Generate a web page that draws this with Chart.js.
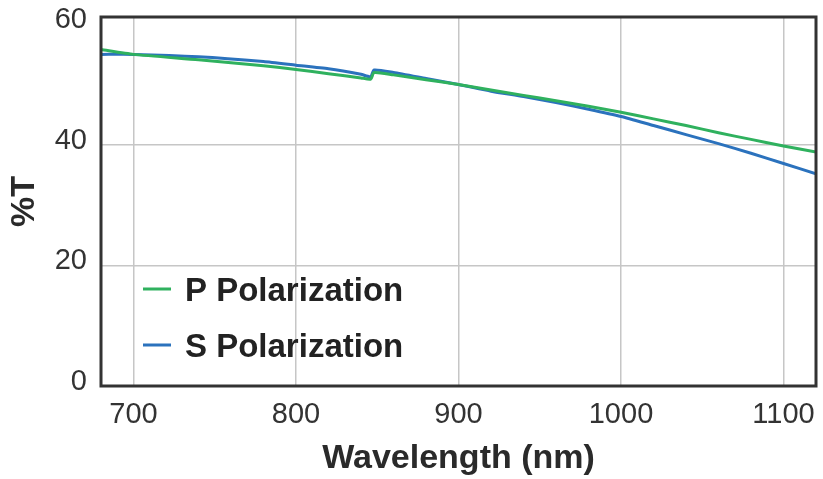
<!DOCTYPE html>
<html>
<head>
<meta charset="utf-8">
<script src="https://cdn.jsdelivr.net/npm/chart.js@4.4.1/dist/chart.umd.min.js"></script>
<style>
  html, body { margin: 0; padding: 0; background: #fff; }
  #wrap { width: 823px; height: 479px; }
</style>
</head>
<body>
<div id="wrap"><canvas id="chart" width="823" height="479"></canvas></div>
<script>
// wavelength (nm) sample points, the step near 847 nm is kept as two close points
const pWavelength = [680, 700, 740, 780, 800, 820, 840, 846, 848, 860, 880, 900, 920, 940, 960, 980, 1000, 1020, 1040, 1060, 1080, 1100, 1120];
const pValues     = [55.8, 55.0, 54.1, 53.1, 52.5, 51.8, 51.1, 50.9, 52.0, 51.6, 50.8, 50.0, 49.1, 48.2, 47.3, 46.4, 45.4, 44.3, 43.2, 42.0, 40.9, 39.8, 38.8];

const sWavelength = [680, 700, 740, 780, 800, 820, 840, 846, 848, 860, 880, 900, 920, 940, 960, 980, 1000, 1020, 1040, 1060, 1080, 1100, 1120];
const sValues     = [55.0, 55.0, 54.6, 53.8, 53.2, 52.6, 51.7, 51.3, 52.4, 52.0, 51.0, 50.0, 48.9, 48.0, 47.0, 45.9, 44.7, 43.2, 41.7, 40.2, 38.6, 36.9, 35.2];

const seriesNames = ["P Polarization", "S Polarization"];
const xTicks = [700, 800, 900, 1000, 1100];
const yTicks = [0, 20, 40, 60];

const GREEN = "#2fb15e";
const BLUE = "#2b72bd";
const FONT = "'Liberation Sans', Arial, sans-serif";

function toPoints(xs, ys) {
  return xs.map((x, i) => ({ x: x, y: ys[i] }));
}

// frame around the plot + legend inside it
const framePlugin = {
  id: "frame",
  afterDraw(chart) {
    const { ctx, chartArea: a } = chart;
    ctx.save();
    ctx.strokeStyle = "#333";
    ctx.lineWidth = 3;
    ctx.strokeRect(a.left, a.top, a.right - a.left, a.bottom - a.top);

    // legend
    const items = [
      { name: seriesNames[0], color: GREEN, y: 292 },
      { name: seriesNames[1], color: BLUE, y: 348 }
    ];
    ctx.font = "bold 33px " + FONT;
    ctx.textBaseline = "middle";
    ctx.textAlign = "left";
    items.forEach(it => {
      ctx.strokeStyle = it.color;
      ctx.lineWidth = 3;
      ctx.beginPath();
      ctx.moveTo(143, it.y - 3);
      ctx.lineTo(171, it.y - 3);
      ctx.stroke();
      ctx.fillStyle = "#222";
      ctx.fillText(it.name, 185, it.y);
    });
    ctx.restore();
  }
};

new Chart(document.getElementById("chart").getContext("2d"), {
  type: "line",
  data: {
    datasets: [
      {
        label: seriesNames[0],
        data: toPoints(pWavelength, pValues),
        borderColor: GREEN,
        borderWidth: 3,
        pointRadius: 0,
        tension: 0.2
      },
      {
        label: seriesNames[1],
        data: toPoints(sWavelength, sValues),
        borderColor: BLUE,
        borderWidth: 3,
        pointRadius: 0,
        tension: 0.2
      }
    ]
  },
  options: {
    responsive: false,
    animation: false,
    devicePixelRatio: 1,
    layout: { padding: { top: 17, right: 7, left: 0, bottom: 0 } },
    plugins: {
      legend: { display: false },
      tooltip: { enabled: false }
    },
    scales: {
      x: {
        type: "linear",
        min: 680,
        max: 1120,
        afterBuildTicks: s => { s.ticks = xTicks.map(v => ({ value: v })); },
        afterFit: s => { s.height = 93; s.paddingLeft = 0; s.paddingRight = 0; },
        grid: { color: "#c6c6c6", lineWidth: 1.5, drawTicks: false },
        border: { display: false },
        ticks: {
          padding: 12,
          color: "#333",
          callback: v => String(v),
          font: { family: FONT, size: 29 }
        },
        title: {
          display: true,
          text: "Wavelength (nm)",
          color: "#2a2a2a",
          font: { family: FONT, size: 34, weight: "bold" },
          padding: { top: 0, bottom: 0 }
        }
      },
      y: {
        min: 0,
        max: 61.2,
        afterBuildTicks: s => { s.ticks = yTicks.map(v => ({ value: v })); },
        afterFit: s => { s.width = 101; s.paddingTop = 0; s.paddingBottom = 0; },
        grid: {
          color: ctx => (ctx.tick && ctx.tick.value === 60 ? "rgba(0,0,0,0)" : "#c6c6c6"),
          lineWidth: 1.5,
          drawTicks: false
        },
        border: { display: false },
        ticks: {
          padding: 14,
          labelOffset: -4,
          color: "#333",
          callback: v => String(v),
          font: { family: FONT, size: 29 }
        },
        title: {
          display: true,
          text: "%T",
          color: "#2a2a2a",
          font: { family: FONT, size: 34, weight: "bold" },
          padding: { top: 4, bottom: 0 }
        }
      }
    }
  },
  plugins: [framePlugin]
});
</script>
</body>
</html>
